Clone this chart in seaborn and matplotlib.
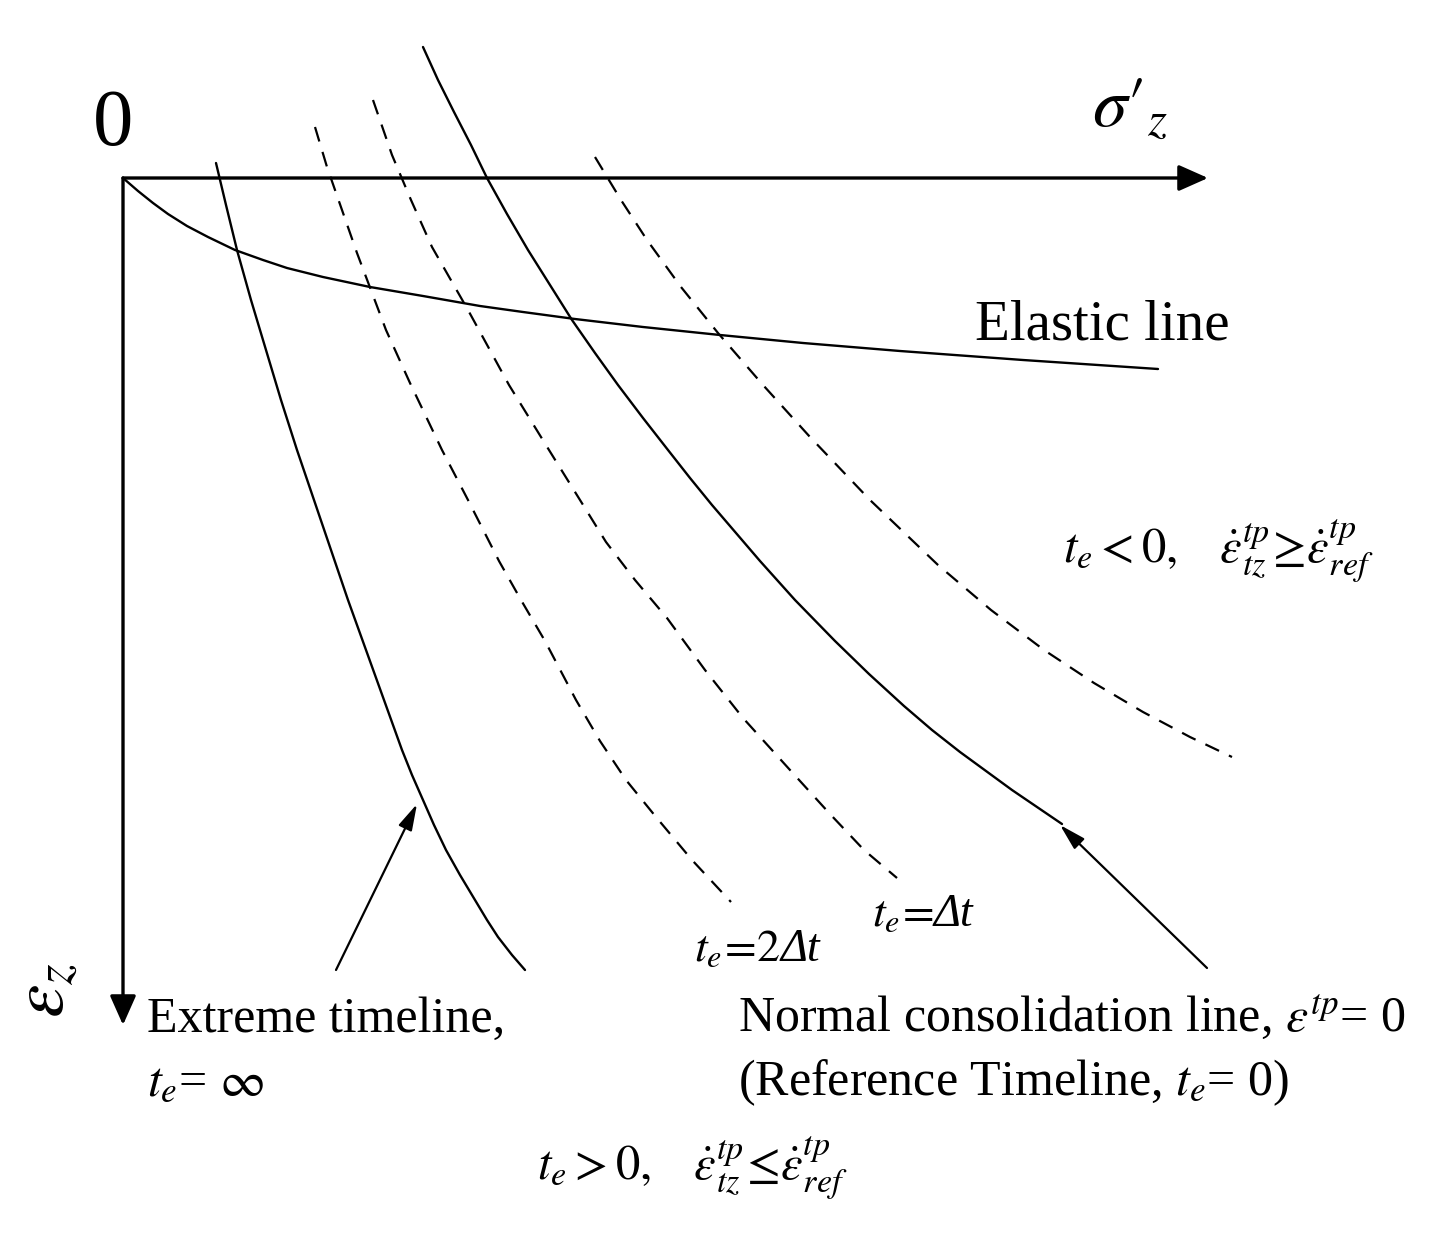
import matplotlib
matplotlib.use("Agg")
import matplotlib.pyplot as plt
import seaborn as sns

# schematic curves (sigma'_z to the right, eps_z downwards)
elastic_sigma = [0, 15, 30, 45, 64, 85, 112, 140, 164, 200, 247, 300, 357,
                 400, 452, 520, 597, 680, 777, 900, 1035]
elastic_eps = [0, 13, 25, 36, 48, 59, 72, 82, 90, 99, 109, 118, 128,
               134, 141, 149, 157, 165, 173, 182, 191]

extreme_sigma = [93, 103, 114, 128, 143, 158, 174, 191, 208, 225, 243, 261,
                 279, 289, 300, 311, 323, 337, 352, 364, 375, 389, 402]
extreme_eps = [-15, 27, 72, 122, 172, 222, 272, 322, 372, 422, 472, 522,
               572, 597, 622, 647, 672, 697, 722, 742, 759, 777, 792]

te2dt_sigma = [192, 204, 219, 234, 263, 287, 319, 345, 376, 398, 422, 453,
               477, 503, 533, 569, 608]
te2dt_eps = [-51, -11, 32, 75, 152, 205, 272, 322, 383, 422, 463, 522,
             563, 602, 639, 682, 724]

tedt_sigma = [250, 269, 288, 309, 345, 386, 426, 457, 483, 512, 544, 582,
              620, 667, 707, 741, 774]
tedt_eps = [-78, -23, 22, 69, 132, 207, 272, 322, 364, 402, 440, 492,
            540, 592, 636, 672, 700]

ncl_sigma = [300, 315, 331, 348, 364, 384, 405, 427, 449, 472, 495, 520, 545,
             567, 589, 613, 637, 672, 712, 746, 781, 809, 837, 889, 939]
ncl_eps = [-131, -98, -66, -33, 0, 36, 72, 107, 142, 175, 207, 240, 272,
           300, 327, 355, 383, 422, 463, 496, 528, 552, 574, 612, 646]

teneg_sigma = [472, 498, 524, 558, 595, 640, 687, 747, 815, 868, 921, 971,
               1020, 1067, 1109]
teneg_eps = [-21, 22, 62, 109, 155, 207, 259, 322, 387, 432, 472, 505,
             534, 559, 579]

sns.set_theme(style="white")
plt.rcParams['font.family'] = ['Liberation Serif', 'DejaVu Serif']
plt.rcParams['mathtext.fontset'] = 'stix'
plt.rcParams['text.color'] = 'black'

fig = plt.figure(figsize=(14.37, 12.37), dpi=100)
ax = fig.add_axes([0, 0, 1, 1])

solid = dict(color='black', lw=1.7, sort=False, estimator=None, ax=ax)
dashed = dict(color='black', lw=1.6, sort=False, estimator=None, ax=ax,
              linestyle=(0, (6.8, 4.9)))

sns.lineplot(x=elastic_sigma, y=elastic_eps, **solid)
sns.lineplot(x=extreme_sigma, y=extreme_eps, **solid)
sns.lineplot(x=ncl_sigma, y=ncl_eps, **solid)
sns.lineplot(x=te2dt_sigma, y=te2dt_eps, **dashed)
sns.lineplot(x=tedt_sigma, y=tedt_eps, **dashed)
sns.lineplot(x=teneg_sigma, y=teneg_eps, **dashed)

# coordinate axes with arrow heads
axis_arrow = dict(arrowstyle='-|>,head_length=0.9,head_width=0.4', lw=2.4,
                  color='black', mutation_scale=20, shrinkA=0, shrinkB=0)
ax.annotate('', xy=(1085, 0), xytext=(0, 0), arrowprops=axis_arrow)
ax.annotate('', xy=(0, 847), xytext=(0, 0), arrowprops=axis_arrow)

# pointer arrows
ptr = dict(arrowstyle='-|>,head_length=0.8,head_width=0.22', lw=1.6,
           color='black', mutation_scale=20, shrinkA=0, shrinkB=0)
ax.annotate('', xy=(294, 626), xytext=(213, 792), arrowprops=ptr)
ax.annotate('', xy=(937, 647), xytext=(1084, 790), arrowprops=ptr)

ax.set_xlim(-123, 1314)
ax.set_ylim(1059, -178)
ax.axis('off')

# labels
ax.text(-10, -53, '0', fontsize=58, ha='center', va='center')
ax.text(969, -51, r"$\sigma\prime_{z}$", fontsize=50, ha='left', va='baseline')
ax.text(-75, 812, r'$\varepsilon_z$', fontsize=54, ha='center', va='center',
        rotation=90)
ax.text(852, 162, 'Elastic line', fontsize=41, ha='left', va='baseline')
ax.text(940, 385, r'$t_e<0,\ \ \ \dot{\varepsilon}^{tp}_{tz}\!\geq\!\dot{\varepsilon}^{tp}_{ref}$',
        fontsize=35, ha='left', va='baseline')
ax.text(414, 1002, r'$t_e>0,\ \ \ \dot{\varepsilon}^{tp}_{tz}\!\leq\!\dot{\varepsilon}^{tp}_{ref}$',
        fontsize=35, ha='left', va='baseline')
ax.text(24, 854, 'Extreme timeline,', fontsize=36, ha='left', va='baseline')
ax.text(24, 917, r'$t_e$= $\infty$', fontsize=36, ha='left', va='baseline')
ax.text(615, 854, r'Normal consolidation line, $\varepsilon^{tp}$= 0', fontsize=36,
        ha='left', va='baseline')
ax.text(615, 917, r'(Reference Timeline, $t_e$= 0)', fontsize=36,
        ha='left', va='baseline')

# t_e labels with an italic Delta (mathtext keeps capital Greek upright)
for lx, ly, prefix in [(571, 783, r'$t_e\!=\!2$'), (749, 748, r'$t_e\!=\!$')]:
    t = ax.text(lx, ly, prefix, fontsize=33, ha='left', va='baseline')
    fig.canvas.draw()
    bb = t.get_window_extent(renderer=fig.canvas.get_renderer())
    ax.annotate('\u0394t', xy=(bb.x1, ly), xycoords=('figure pixels', 'data'),
                fontsize=33, fontstyle='italic', ha='left', va='baseline')

fig.savefig('out.png', dpi=100, facecolor='white')
